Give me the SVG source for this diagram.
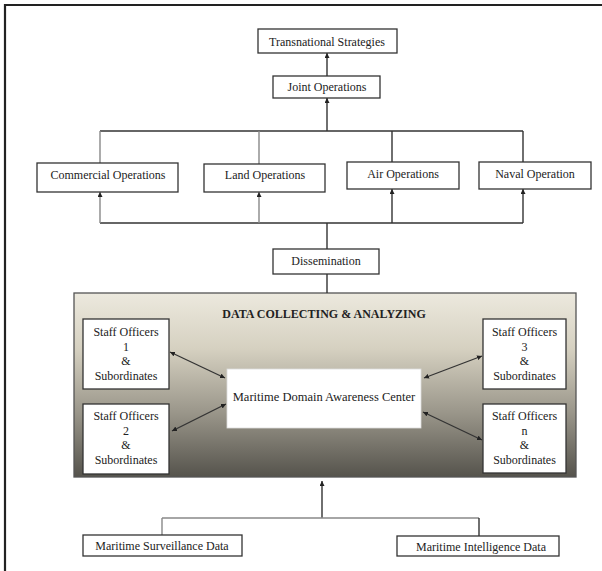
<svg xmlns="http://www.w3.org/2000/svg" width="602" height="571" viewBox="0 0 602 571">
<defs>
<linearGradient id="bg" x1="0" y1="0" x2="0" y2="1">
<stop offset="0" stop-color="#ece9de"/>
<stop offset="0.3" stop-color="#d6d1c1"/>
<stop offset="0.65" stop-color="#9a968a"/>
<stop offset="1" stop-color="#55534c"/>
</linearGradient>
<marker id="ah" viewBox="0 0 10 10" refX="10" refY="5" markerWidth="5" markerHeight="5" orient="auto-start-reverse" markerUnits="userSpaceOnUse">
<path d="M0,0 L10,5 L0,10 z" fill="#222"/>
</marker>
</defs>
<style>
.box{fill:#fff;stroke:#333;stroke-width:1.3}
.t{font-family:"Liberation Serif","Times New Roman",serif;font-size:12px;fill:#222;text-anchor:middle}
.ln{fill:none;stroke:#333;stroke-width:1.4}
.lg{fill:none;stroke:#888;stroke-width:1.4}
.arr{marker-end:url(#ah)}
.dbl{fill:none;stroke:#333;stroke-width:1.3;marker-start:url(#ah);marker-end:url(#ah)}
</style>
<rect width="602" height="571" fill="#fff"/>
<path d="M5,571 V5 H602" fill="none" stroke="#222" stroke-width="2.2"/>

<g id="area">
<rect x="74" y="293" width="502" height="184" fill="url(#bg)" stroke="#555" stroke-width="1.3"/>
<text x="324" y="318" class="t" style="font-weight:bold;font-size:12px">DATA COLLECTING &amp; ANALYZING</text>
</g>

<g id="connectors">
<path class="ln arr" d="M327,76 V53"/>
<path class="ln arr" d="M327,131 V98"/>
<path class="ln" d="M100,131 H523"/>
<path class="lg" d="M100,131 V163"/>
<path class="lg" d="M259,131 V164"/>
<path class="ln" d="M392,131 V162"/>
<path class="ln" d="M523,131 V162"/>
<path class="ln" d="M100,223 H523"/>
<path class="lg arr" d="M100,223 V192"/>
<path class="lg arr" d="M259,223 V192"/>
<path class="ln arr" d="M392,223 V189"/>
<path class="ln arr" d="M523,223 V189"/>
<path class="ln" d="M327,223 V249"/>
<path class="ln" d="M327,274 V293"/>
<path class="dbl" d="M170,352 L225,378"/>
<path class="dbl" d="M172,431 L226,404"/>
<path class="dbl" d="M424,378 L482,356"/>
<path class="dbl" d="M423,412 L482,440"/>
<path class="ln arr" d="M322,518 V481"/>
<path class="lg" d="M162,518 H479"/>
<path class="lg" d="M162,518 V535"/>
<path class="ln" d="M479,518 V536"/>
</g>

<g id="transnational">
<rect class="box" x="258" y="29" width="139" height="24"/>
<text class="t" x="327" y="45.5">Transnational Strategies</text>
</g>
<g id="joint">
<rect class="box" x="273" y="76" width="107" height="22"/>
<text class="t" x="327" y="91">Joint Operations</text>
</g>
<g id="commercial">
<rect class="box" x="37" y="163" width="141" height="29"/>
<text class="t" x="108" y="179">Commercial Operations</text>
</g>
<g id="land">
<rect class="box" x="204" y="164" width="121" height="28"/>
<text class="t" x="265" y="179">Land Operations</text>
</g>
<g id="air">
<rect class="box" x="347" y="162" width="112" height="27"/>
<text class="t" x="403" y="178">Air Operations</text>
</g>
<g id="naval">
<rect class="box" x="479" y="162" width="112" height="27"/>
<text class="t" x="535" y="178">Naval Operation</text>
</g>
<g id="dissemination">
<rect class="box" x="273" y="249" width="106" height="25"/>
<text class="t" x="326" y="264.5">Dissemination</text>
</g>

<g id="so1">
<rect class="box" x="83" y="319" width="86" height="70"/>
<text class="t" x="126" y="336">Staff Officers</text>
<text class="t" x="126" y="350.5">1</text>
<text class="t" x="126" y="365">&amp;</text>
<text class="t" x="126" y="379.5">Subordinates</text>
</g>
<g id="so2">
<rect class="box" x="83" y="404" width="86" height="70"/>
<text class="t" x="126" y="420">Staff Officers</text>
<text class="t" x="126" y="434.5">2</text>
<text class="t" x="126" y="449">&amp;</text>
<text class="t" x="126" y="463.5">Subordinates</text>
</g>
<g id="so3">
<rect class="box" x="483" y="319" width="83" height="70"/>
<text class="t" x="524.5" y="336">Staff Officers</text>
<text class="t" x="524.5" y="350.5">3</text>
<text class="t" x="524.5" y="365">&amp;</text>
<text class="t" x="524.5" y="379.5">Subordinates</text>
</g>
<g id="son">
<rect class="box" x="483" y="404" width="83" height="69"/>
<text class="t" x="524.5" y="420">Staff Officers</text>
<text class="t" x="524.5" y="434.5">n</text>
<text class="t" x="524.5" y="449">&amp;</text>
<text class="t" x="524.5" y="463.5">Subordinates</text>
</g>
<g id="mda">
<rect x="227" y="369" width="194" height="59" fill="#fff" stroke="#ddd" stroke-width="0.8"/>
<text class="t" x="324" y="401" style="font-size:12.5px">Maritime Domain Awareness Center</text>
</g>

<g id="surveillance">
<rect class="box" x="83" y="535" width="159" height="21"/>
<text class="t" x="162" y="550">Maritime Surveillance Data</text>
</g>
<g id="intelligence">
<rect class="box" x="397" y="536" width="162" height="20"/>
<text class="t" x="481" y="550.5">Maritime Intelligence Data</text>
</g>
</svg>
